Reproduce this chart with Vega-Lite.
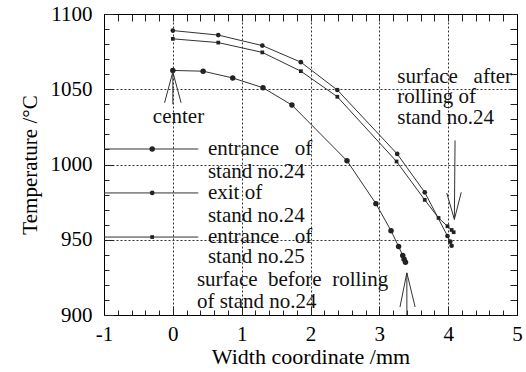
{
  "$schema": "https://vega.github.io/schema/vega-lite/v6.json",
  "width": 413,
  "height": 301,
  "autosize": "none",
  "padding": {"left": 104, "top": 14, "right": 9, "bottom": 57},
  "background": "white",
  "config": {
    "font": "Liberation Serif, Times New Roman, DejaVu Serif, serif",
    "view": {"stroke": null}
  },
  "datasets": {
    "series": [
      {"s": "e24", "x": 0, "y": 1062.5},
      {"s": "e24", "x": 0.44, "y": 1062},
      {"s": "e24", "x": 0.87, "y": 1057.5},
      {"s": "e24", "x": 1.31, "y": 1051},
      {"s": "e24", "x": 1.73, "y": 1039.5},
      {"s": "e24", "x": 2.53, "y": 1002.5},
      {"s": "e24", "x": 2.95, "y": 974},
      {"s": "e24", "x": 3.17, "y": 956},
      {"s": "e24", "x": 3.28, "y": 945.5},
      {"s": "e24", "x": 3.34, "y": 939.5},
      {"s": "e24", "x": 3.36, "y": 937},
      {"s": "e24", "x": 3.38, "y": 935},
      {"s": "x24", "x": 0, "y": 1089},
      {"s": "x24", "x": 0.66, "y": 1086},
      {"s": "x24", "x": 1.3, "y": 1079},
      {"s": "x24", "x": 1.86, "y": 1068},
      {"s": "x24", "x": 2.39, "y": 1049.5},
      {"s": "x24", "x": 3.26, "y": 1007},
      {"s": "x24", "x": 3.66, "y": 981.5},
      {"s": "x24", "x": 3.99, "y": 952.5},
      {"s": "x24", "x": 4.03, "y": 948.7},
      {"s": "x24", "x": 4.05, "y": 946},
      {"s": "e25", "x": 0, "y": 1083.5},
      {"s": "e25", "x": 0.66, "y": 1081},
      {"s": "e25", "x": 1.3, "y": 1074.5},
      {"s": "e25", "x": 1.86, "y": 1062},
      {"s": "e25", "x": 2.39, "y": 1045},
      {"s": "e25", "x": 3.25, "y": 1002},
      {"s": "e25", "x": 3.66, "y": 976.5},
      {"s": "e25", "x": 3.86, "y": 964.5},
      {"s": "e25", "x": 3.99, "y": 959},
      {"s": "e25", "x": 4.05, "y": 956.5},
      {"s": "e25", "x": 4.08, "y": 955}
    ],
    "legendlines": [
      {"s": "e24", "x": -1, "y": 1010.3},
      {"s": "e24", "x": 0.37, "y": 1010.3},
      {"s": "x24", "x": -1, "y": 981.1},
      {"s": "x24", "x": 0.37, "y": 981.1},
      {"s": "e25", "x": -1, "y": 951.8},
      {"s": "e25", "x": 0.37, "y": 951.8}
    ],
    "legendpts": [
      {"s": "e24", "x": -0.3, "y": 1010.3},
      {"s": "x24", "x": -0.3, "y": 981.1},
      {"s": "e25", "x": -0.3, "y": 951.8}
    ],
    "labels": [
      {"x": -0.29, "y": 1031.6, "t": "center"},
      {"x": 0.51, "y": 1010.3, "t": "entrance\u00a0\u00a0 of"},
      {"x": 0.51, "y": 995.0, "t": "stand no.24"},
      {"x": 0.51, "y": 981.1, "t": "exit of"},
      {"x": 0.51, "y": 965.8, "t": "stand no.24"},
      {"x": 0.51, "y": 951.8, "t": "entrance\u00a0\u00a0 of"},
      {"x": 0.51, "y": 938.5, "t": "stand no.25"},
      {"x": 0.35, "y": 923.3, "t": "surface\u00a0 before\u00a0 rolling"},
      {"x": 0.35, "y": 908.6, "t": "of stand no.24"},
      {"x": 3.26, "y": 1058.1, "t": "surface\u00a0\u00a0 after"},
      {"x": 3.26, "y": 1044.9, "t": "rolling of"},
      {"x": 3.26, "y": 1030.9, "t": "stand no.24"}
    ],
    "arrows": [
      {"id": "a1", "o": 1, "x": -0.12, "y": 1041},
      {"id": "a1", "o": 2, "x": 0, "y": 1061.5},
      {"id": "a1", "o": 3, "x": 0.12, "y": 1041},
      {"id": "a1s", "o": 1, "x": 0, "y": 1061.5},
      {"id": "a1s", "o": 2, "x": 0, "y": 1040},
      {"id": "a2", "o": 1, "x": 3.98, "y": 981},
      {"id": "a2", "o": 2, "x": 4.09, "y": 963.5},
      {"id": "a2", "o": 3, "x": 4.19, "y": 981.5},
      {"id": "a2s", "o": 1, "x": 4.1, "y": 1016},
      {"id": "a2s", "o": 2, "x": 4.09, "y": 963.5},
      {"id": "a3", "o": 1, "x": 3.3, "y": 905.3},
      {"id": "a3", "o": 2, "x": 3.4, "y": 928},
      {"id": "a3", "o": 3, "x": 3.52, "y": 905.3},
      {"id": "a3s", "o": 1, "x": 3.4, "y": 928},
      {"id": "a3s", "o": 2, "x": 3.4, "y": 900}
    ]
  },
  "layer": [
    {
      "data": {"name": "series"},
      "mark": {"type": "line", "color": "#333", "strokeWidth": 1},
      "encoding": {
        "x": {"field": "x", "type": "quantitative", "scale": {"domain": [-1, 5], "nice": false, "zero": false},
          "axis": {"orient": "bottom", "values": [-1, 0, 1, 2, 3, 4, 5], "labelExpr": "'' + datum.value", "ticks": false, "grid": true, "gridColor": "#333", "gridDash": [2, 2], "gridWidth": 1, "gridOpacity": 1, "labelPadding": 8, "labelFlush": false, "labelFont": "Liberation Serif", "labelFontSize": 21, "labelColor": "#000", "title": "Width coordinate /mm", "titleFont": "Liberation Serif", "titleFontWeight": "normal", "titleColor": "#000", "titlePadding": 2, "titleFontSize": 22, "domain": true, "domainColor": "#000", "domainWidth": 1}},
        "y": {"field": "y", "type": "quantitative", "scale": {"domain": [900, 1100], "nice": false, "zero": false},
          "axis": {"orient": "left", "values": [900, 950, 1000, 1050, 1100], "labelExpr": "'' + datum.value", "ticks": false, "grid": true, "gridColor": "#333", "gridDash": [2, 2], "gridWidth": 1, "gridOpacity": 1, "labelPadding": 12, "labelFlush": false, "labelFont": "Liberation Serif", "labelFontSize": 21, "labelColor": "#000", "title": "Temperature /\u00b0C", "titleFont": "Liberation Serif", "titleFontWeight": "normal", "titleColor": "#000", "titleFontSize": 21, "titlePadding": 10, "domain": true, "domainColor": "#000", "domainWidth": 1}},
        "detail": {"field": "s"}
      }
    },
    {
      "data": {"name": "series"},
      "mark": {"type": "point", "filled": true, "opacity": 1, "color": "#222"},
      "encoding": {
        "x": {"field": "x", "type": "quantitative",
          "axis": {"orient": "bottom", "values": [-1, -0.8, -0.6, -0.4, -0.2, 0, 0.2, 0.4, 0.6, 0.8, 1, 1.2, 1.4, 1.6, 1.8, 2, 2.2, 2.4, 2.6, 2.8, 3, 3.2, 3.4, 3.6, 3.8, 4, 4.2, 4.4, 4.6, 4.8, 5], "labelExpr": "''", "ticks": true, "tickSize": -5, "tickColor": "#222", "tickWidth": 1, "grid": false, "domain": false, "title": null}},
        "y": {"field": "y", "type": "quantitative",
          "axis": {"orient": "left", "values": [900, 910, 920, 930, 940, 950, 960, 970, 980, 990, 1000, 1010, 1020, 1030, 1040, 1050, 1060, 1070, 1080, 1090, 1100], "labelExpr": "''", "ticks": true, "tickSize": -5, "tickColor": "#222", "tickWidth": 1, "grid": false, "domain": false, "title": null}},
        "shape": {"field": "s", "type": "nominal", "scale": {"domain": ["e24", "x24", "e25"], "range": ["circle", "circle", "square"]}, "legend": null},
        "size": {"field": "s", "type": "nominal", "scale": {"domain": ["e24", "x24", "e25"], "range": [30, 14, 40]}, "legend": null}
      }
    },
    {
      "data": {"name": "legendlines"},
      "mark": {"type": "line", "color": "#333", "strokeWidth": 1},
      "encoding": {
        "x": {"field": "x", "type": "quantitative",
          "axis": {"orient": "bottom", "values": [-1, 0, 1, 2, 3, 4, 5], "labelExpr": "''", "ticks": true, "tickSize": -9, "tickColor": "#222", "tickWidth": 1, "grid": false, "domain": false, "title": null}},
        "y": {"field": "y", "type": "quantitative",
          "axis": {"orient": "left", "values": [900, 950, 1000, 1050, 1100], "labelExpr": "''", "ticks": true, "tickSize": -9, "tickColor": "#222", "tickWidth": 1, "grid": false, "domain": false, "title": null}},
        "detail": {"field": "s"}
      }
    },
    {
      "data": {"name": "legendpts"},
      "mark": {"type": "point", "filled": true, "opacity": 1, "color": "#222"},
      "encoding": {
        "x": {"field": "x", "type": "quantitative",
          "axis": {"orient": "top", "values": [-1, -0.8, -0.6, -0.4, -0.2, 0, 0.2, 0.4, 0.6, 0.8, 1, 1.2, 1.4, 1.6, 1.8, 2, 2.2, 2.4, 2.6, 2.8, 3, 3.2, 3.4, 3.6, 3.8, 4, 4.2, 4.4, 4.6, 4.8, 5], "labelExpr": "''", "ticks": true, "tickSize": -7, "tickColor": "#222", "tickWidth": 1, "grid": false, "domain": true, "domainColor": "#000", "domainWidth": 1, "title": null}},
        "y": {"field": "y", "type": "quantitative",
          "axis": {"orient": "right", "values": [900, 910, 920, 930, 940, 950, 960, 970, 980, 990, 1000, 1010, 1020, 1030, 1040, 1050, 1060, 1070, 1080, 1090, 1100], "labelExpr": "''", "ticks": true, "tickSize": -7, "tickColor": "#222", "tickWidth": 1, "grid": false, "domain": true, "domainColor": "#000", "domainWidth": 1, "title": null}},
        "shape": {"field": "s", "type": "nominal", "legend": null},
        "size": {"field": "s", "type": "nominal", "legend": null}
      }
    },
    {
      "data": {"name": "labels"},
      "mark": {"type": "text", "align": "left", "baseline": "middle", "fontSize": 21, "font": "Liberation Serif", "color": "#111"},
      "encoding": {
        "x": {"field": "x", "type": "quantitative", "axis": null},
        "y": {"field": "y", "type": "quantitative", "axis": null},
        "text": {"field": "t"}
      }
    },
    {
      "data": {"name": "arrows"},
      "mark": {"type": "line", "color": "#333", "strokeWidth": 1},
      "encoding": {
        "x": {"field": "x", "type": "quantitative", "axis": null},
        "y": {"field": "y", "type": "quantitative", "axis": null},
        "detail": {"field": "id"},
        "order": {"field": "o"}
      }
    }
  ],
  "resolve": {"axis": {"x": "independent", "y": "independent"}}
}
